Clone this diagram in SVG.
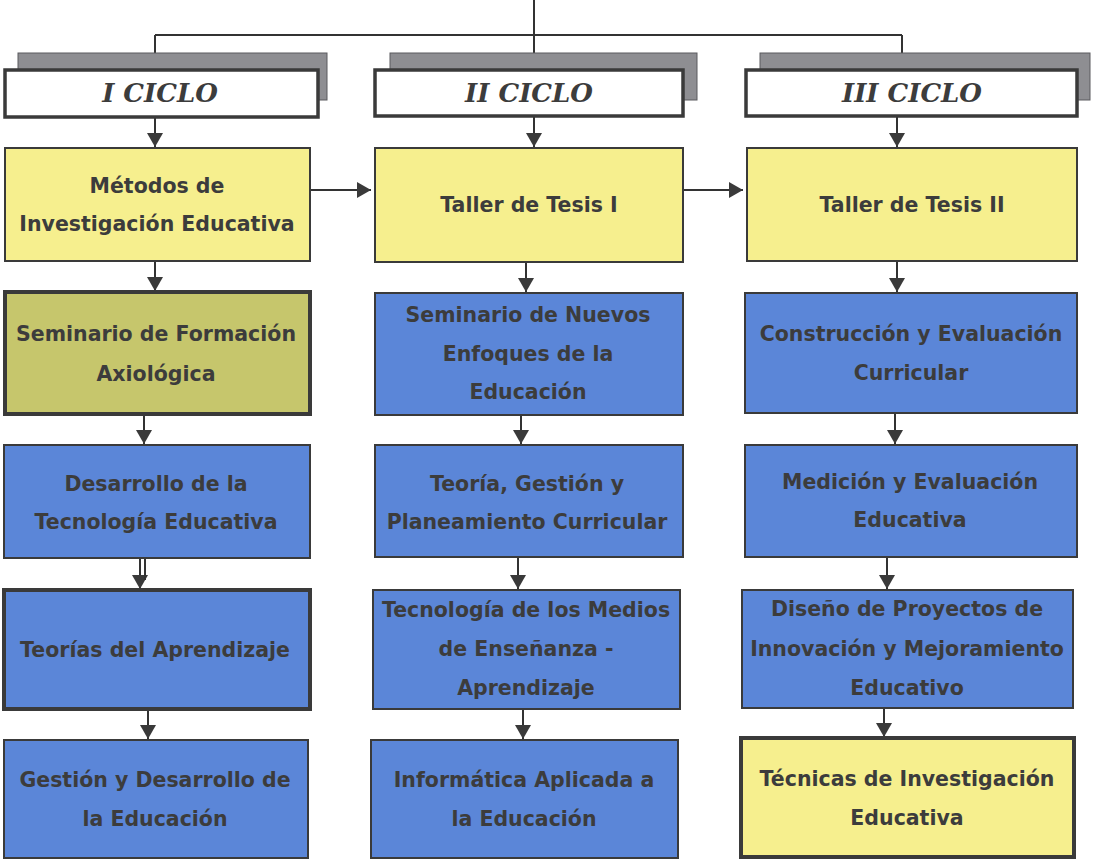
<svg xmlns="http://www.w3.org/2000/svg" width="1102" height="860" viewBox="0 0 1102 860">
<style>
.bg{fill:#ffffff}
.sh{fill:#8e8e92;stroke:#5a5a5e;stroke-width:1}
.hd{fill:#ffffff;stroke:#3a3a3a;stroke-width:3.5}
.y{fill:#f6ef8e;stroke:#3a3a3a;stroke-width:2}
.b{fill:#5b86d8;stroke:#3a3a3a;stroke-width:2}
.g{fill:#c6c66c;stroke:#3a3a3a;stroke-width:4}
.thick{stroke-width:4}
text{font-family:"DejaVu Sans","Liberation Sans",sans-serif;font-weight:bold;font-size:20.5px;fill:#3c3c3c;text-anchor:middle;dominant-baseline:central}
.ht{font-size:26px;font-style:italic;font-family:"DejaVu Serif","Liberation Serif",serif}
.c{stroke:#333333;stroke-width:2;fill:none}
</style>
<defs>
<marker id="ah" markerUnits="userSpaceOnUse" markerWidth="15" markerHeight="16" refX="14" refY="8" orient="auto">
<path d="M0,0 L14,8 L0,16 z" fill="#3a3a3a"/>
</marker>
</defs>
<rect class="bg" x="0" y="0" width="1102" height="860"/>

<g id="connectors">
<path class="c" d="M534,0 V54"/>
<path class="c" d="M155,35 H902"/>
<path class="c" d="M155,35 V54"/>
<path class="c" d="M902,35 V54"/>
<path class="c" d="M155,117 V147" marker-end="url(#ah)"/>
<path class="c" d="M534,116 V147" marker-end="url(#ah)"/>
<path class="c" d="M897,116 V147" marker-end="url(#ah)"/>
<path class="c" d="M310,190 H371" marker-end="url(#ah)"/>
<path class="c" d="M683,190 H743" marker-end="url(#ah)"/>
<path class="c" d="M155,262 V291" marker-end="url(#ah)"/>
<path class="c" d="M526,262 V292" marker-end="url(#ah)"/>
<path class="c" d="M897,262 V292" marker-end="url(#ah)"/>
<path class="c" d="M144,415 V444" marker-end="url(#ah)"/>
<path class="c" d="M521,415 V444" marker-end="url(#ah)"/>
<path class="c" d="M895,413 V444" marker-end="url(#ah)"/>
<path class="c" d="M140,558 V589" marker-end="url(#ah)"/>
<path class="c" d="M145,558 V580"/>
<path class="c" d="M518,557 V589" marker-end="url(#ah)"/>
<path class="c" d="M887,557 V589" marker-end="url(#ah)"/>
<path class="c" d="M148,710 V739" marker-end="url(#ah)"/>
<path class="c" d="M523,709 V739" marker-end="url(#ah)"/>
<path class="c" d="M884,708 V737" marker-end="url(#ah)"/>
</g>

<g id="ciclo1">
<rect class="sh" x="18" y="53" width="309" height="47"/>
<rect class="hd" x="5" y="70" width="313" height="47"/>
<text class="ht" x="160" y="93">I CICLO</text>
</g>
<g id="ciclo2">
<rect class="sh" x="390" y="53" width="307" height="47"/>
<rect class="hd" x="375" y="70" width="308" height="46"/>
<text class="ht" x="529" y="93">II CICLO</text>
</g>
<g id="ciclo3">
<rect class="sh" x="760" y="53" width="330" height="47"/>
<rect class="hd" x="746" y="70" width="331" height="46"/>
<text class="ht" x="912" y="93">III CICLO</text>
</g>

<g id="metodos">
<rect class="y" x="5" y="148" width="305" height="113"/>
<text x="157" y="186">Métodos de</text>
<text x="157" y="224">Investigación Educativa</text>
</g>
<g id="tesis1">
<rect class="y" x="375" y="148" width="308" height="114"/>
<text x="529" y="205">Taller de Tesis I</text>
</g>
<g id="tesis2">
<rect class="y" x="747" y="148" width="330" height="113"/>
<text x="912" y="205">Taller de Tesis II</text>
</g>

<g id="axiologica">
<rect class="g" x="5" y="292" width="305" height="122"/>
<text x="156" y="334">Seminario de Formación</text>
<text x="156" y="374">Axiológica</text>
</g>
<g id="enfoques">
<rect class="b" x="375" y="293" width="308" height="122"/>
<text x="528" y="315">Seminario de Nuevos</text>
<text x="528" y="354">Enfoques de la</text>
<text x="528" y="392">Educación</text>
</g>
<g id="construccion">
<rect class="b" x="745" y="293" width="332" height="120"/>
<text x="911" y="334">Construcción y Evaluación</text>
<text x="911" y="373">Curricular</text>
</g>

<g id="tecnologia">
<rect class="b" x="4" y="445" width="306" height="113"/>
<text x="156" y="484">Desarrollo de la</text>
<text x="156" y="522">Tecnología Educativa</text>
</g>
<g id="teoria">
<rect class="b" x="375" y="445" width="308" height="112"/>
<text x="527" y="484">Teoría, Gestión y</text>
<text x="527" y="522">Planeamiento Curricular</text>
</g>
<g id="medicion">
<rect class="b" x="745" y="445" width="332" height="112"/>
<text x="910" y="482">Medición y Evaluación</text>
<text x="910" y="520">Educativa</text>
</g>

<g id="aprendizaje">
<rect class="b thick" x="4" y="590" width="306" height="119"/>
<text x="155" y="650">Teorías del Aprendizaje</text>
</g>
<g id="medios">
<rect class="b" x="373" y="590" width="307" height="119"/>
<text x="526" y="610">Tecnología de los Medios</text>
<text x="526" y="649">de Enseñanza -</text>
<text x="526" y="688">Aprendizaje</text>
</g>
<g id="diseno">
<rect class="b" x="742" y="590" width="331" height="118"/>
<text x="907" y="609">Diseño de Proyectos de</text>
<text x="907" y="649">Innovación y Mejoramiento</text>
<text x="907" y="688">Educativo</text>
</g>

<g id="gestion">
<rect class="b" x="4" y="740" width="304" height="118"/>
<text x="155" y="780">Gestión y Desarrollo de</text>
<text x="155" y="819">la Educación</text>
</g>
<g id="informatica">
<rect class="b" x="371" y="740" width="307" height="118"/>
<text x="524" y="780">Informática Aplicada a</text>
<text x="524" y="819">la Educación</text>
</g>
<g id="tecnicas">
<rect class="y thick" x="741" y="738" width="333" height="119"/>
<text x="907" y="779">Técnicas de Investigación</text>
<text x="907" y="818">Educativa</text>
</g>
</svg>
